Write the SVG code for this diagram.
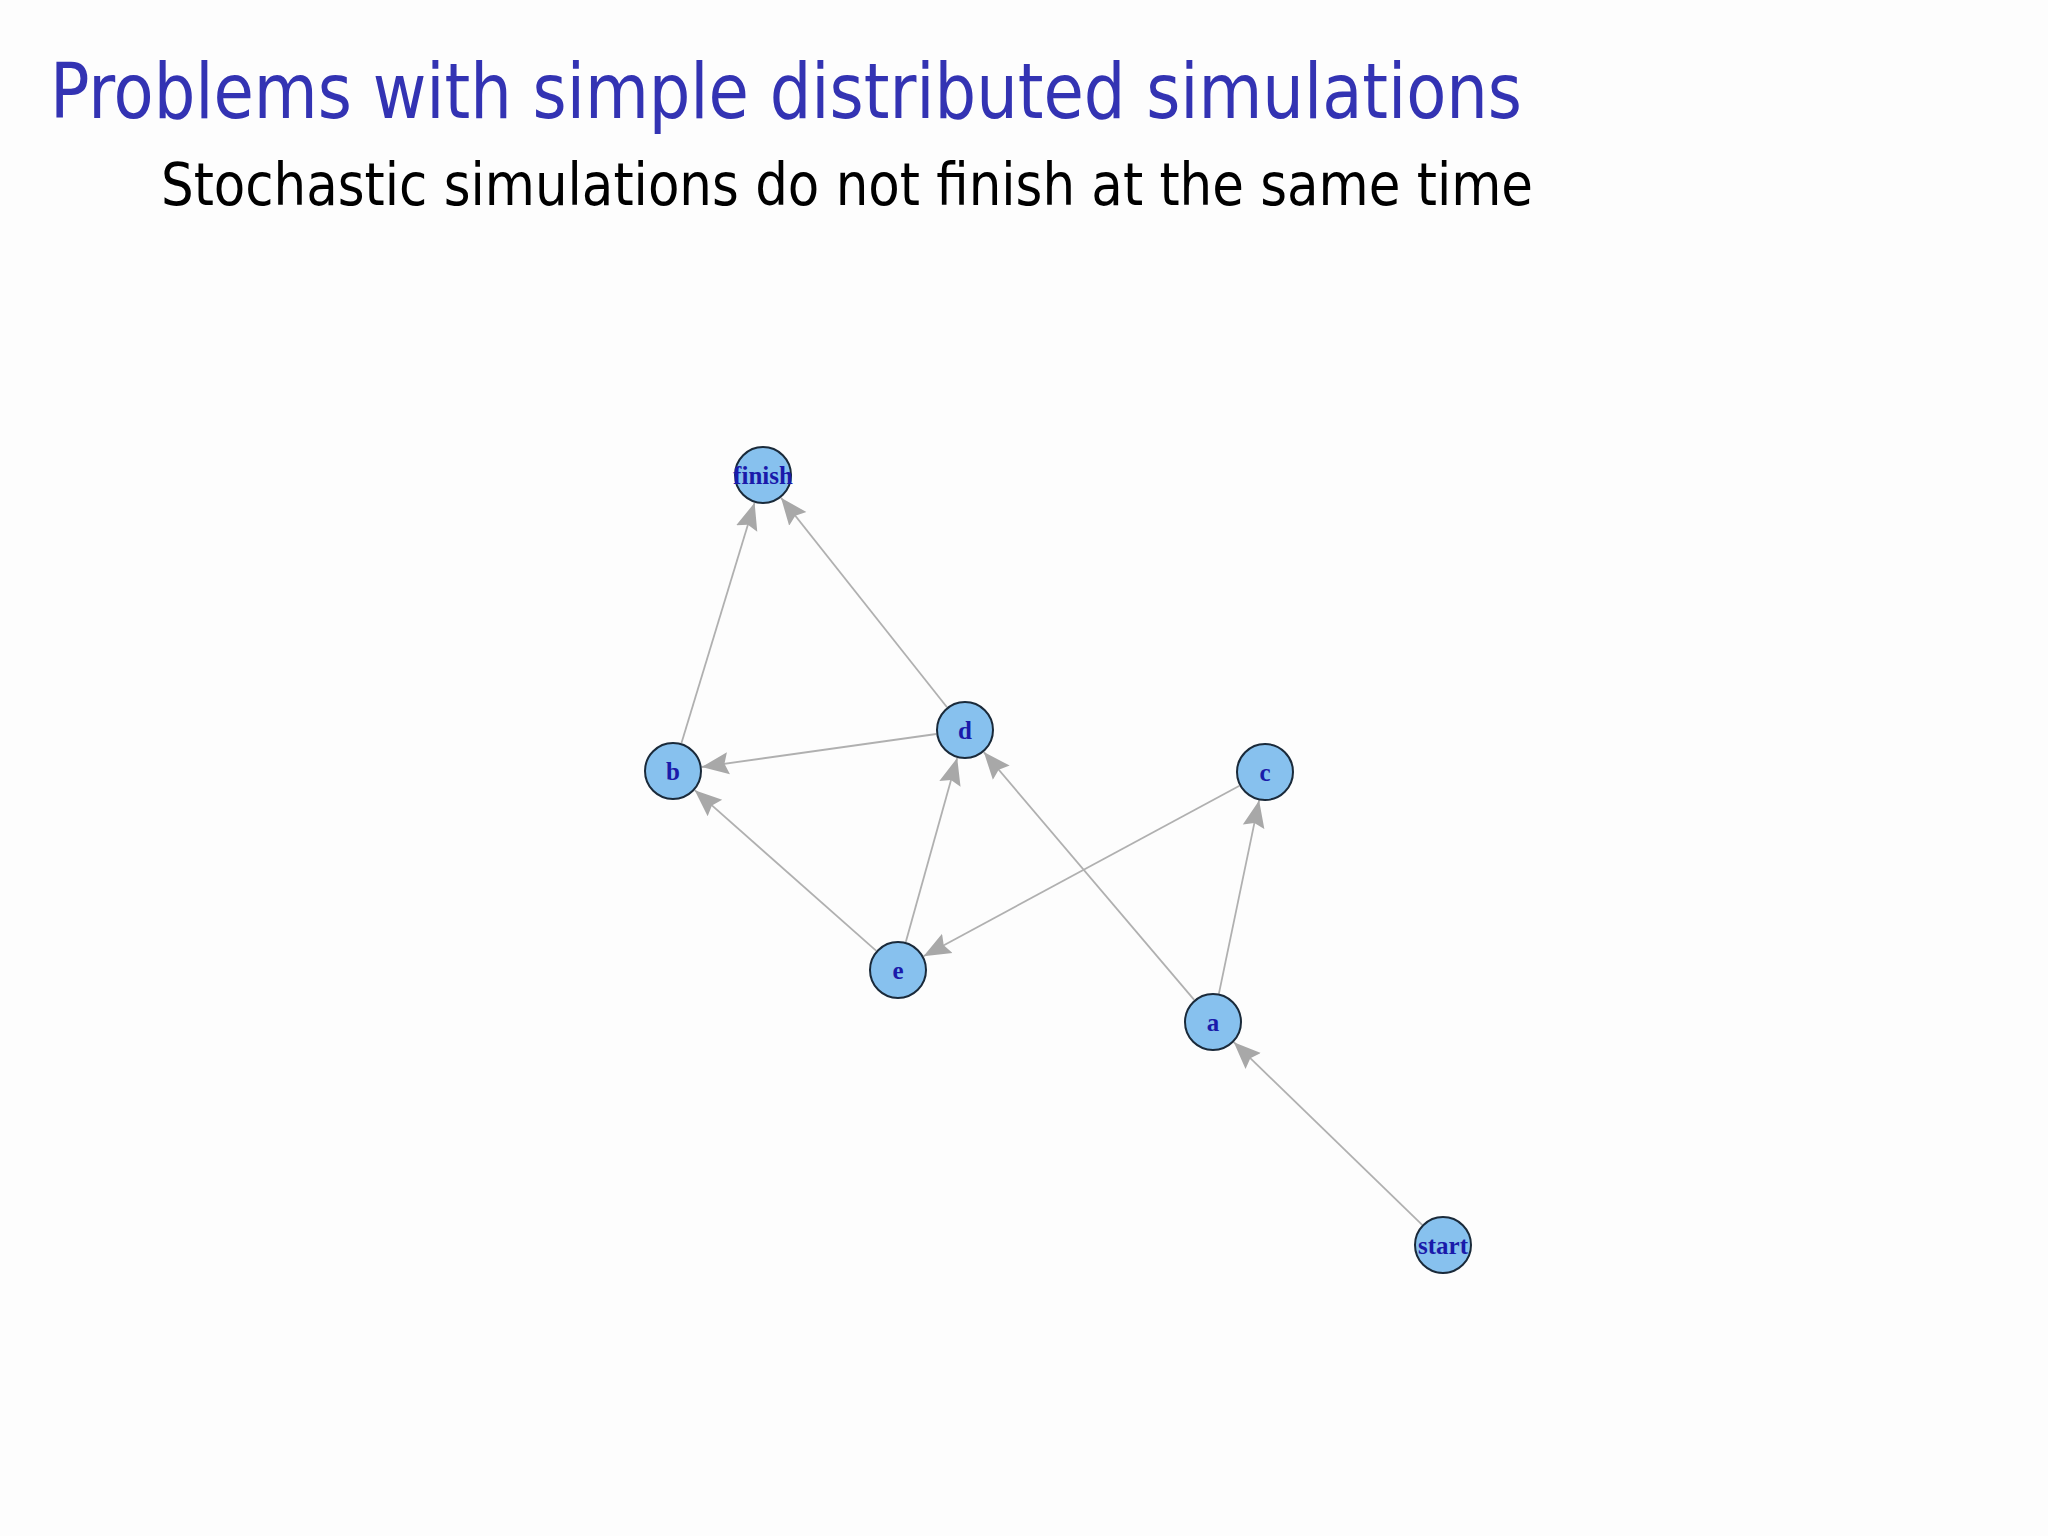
<svg xmlns="http://www.w3.org/2000/svg" width="2048" height="1536" viewBox="0 0 2048 1536">
<style>
.title{font-family:"DejaVu Sans Condensed","Liberation Sans",sans-serif;font-size:76px;fill:#3333B3}
.sub{font-family:"DejaVu Sans Condensed","Liberation Sans",sans-serif;font-size:58px;fill:#000}
.node circle{fill:#87C1EE;stroke:#1a2a3a;stroke-width:2}
.node text{font-family:"Liberation Serif",serif;font-size:25px;font-weight:bold;fill:#1A1AAA;text-anchor:middle}
.edge{stroke:#B0B0B0;stroke-width:1.8;fill:none;marker-end:url(#arr)}
</style>
<defs>
<marker id="arr" markerUnits="userSpaceOnUse" markerWidth="30" markerHeight="26" refX="27" refY="13" orient="auto">
<path d="M0,2 L27,13 L0,24 L4,13 z" fill="#A8A8A8"/>
</marker>
</defs>
<rect width="2048" height="1536" fill="#FDFDFD"/>
<text class="title" x="50" y="118" textLength="1472" lengthAdjust="spacingAndGlyphs">Problems with simple distributed simulations</text>
<text class="sub" x="161" y="205" textLength="1372" lengthAdjust="spacingAndGlyphs">Stochastic simulations do not finish at the same time</text>
<g id="edges">
<line class="edge" x1="1422.2" y1="1224.8" x2="1233.8" y2="1042.2"/>
<line class="edge" x1="1218.9" y1="993.6" x2="1259.1" y2="800.4"/>
<line class="edge" x1="1194.2" y1="999.9" x2="983.8" y2="752.1"/>
<line class="edge" x1="1239.5" y1="785.8" x2="923.5" y2="956.2"/>
<line class="edge" x1="876.3" y1="950.8" x2="694.7" y2="790.2"/>
<line class="edge" x1="905.8" y1="942.1" x2="957.2" y2="757.9"/>
<line class="edge" x1="936.3" y1="734.0" x2="701.7" y2="767.0"/>
<line class="edge" x1="947.0" y1="707.3" x2="781.0" y2="497.7"/>
<line class="edge" x1="681.4" y1="743.3" x2="754.6" y2="502.7"/>
</g>
<g id="node-finish" class="node"><circle cx="763" cy="475" r="28"/><text x="763" y="484">finish</text></g>
<g id="node-b" class="node"><circle cx="673" cy="771" r="28"/><text x="673" y="780">b</text></g>
<g id="node-d" class="node"><circle cx="965" cy="730" r="28"/><text x="965" y="739">d</text></g>
<g id="node-c" class="node"><circle cx="1265" cy="772" r="28"/><text x="1265" y="781">c</text></g>
<g id="node-e" class="node"><circle cx="898" cy="970" r="28"/><text x="898" y="979">e</text></g>
<g id="node-a" class="node"><circle cx="1213" cy="1022" r="28"/><text x="1213" y="1031">a</text></g>
<g id="node-start" class="node"><circle cx="1443" cy="1245" r="28"/><text x="1443" y="1254">start</text></g>
</svg>
